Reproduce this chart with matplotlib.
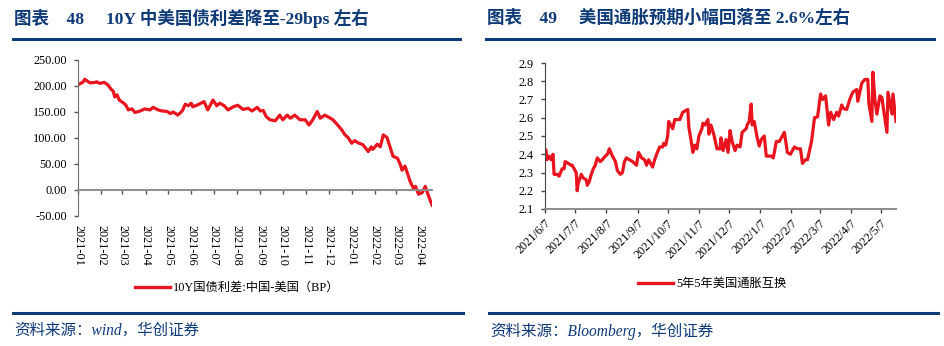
import pandas as pd
import matplotlib
matplotlib.use('Agg')
import matplotlib.pyplot as plt
from matplotlib.lines import Line2D

plt.rcParams['font.family'] = ['Liberation Serif', 'Noto Sans CJK SC']
plt.rcParams['axes.unicode_minus'] = False

# --- 图表48: 10Y国债利差 中国-美国 (BP)
spread_dates = [
    '2021-01-01', '2021-01-08', '2021-01-10', '2021-01-17', '2021-01-24', '2021-01-26',
    '2021-01-30', '2021-02-05', '2021-02-10', '2021-02-14', '2021-02-17', '2021-02-19',
    '2021-02-22', '2021-02-25', '2021-03-02', '2021-03-06', '2021-03-09', '2021-03-14',
    '2021-03-18', '2021-03-25', '2021-03-31', '2021-04-07', '2021-04-11', '2021-04-18',
    '2021-04-23', '2021-04-30', '2021-05-04', '2021-05-08', '2021-05-14', '2021-05-20',
    '2021-05-24', '2021-05-28', '2021-06-01', '2021-06-03', '2021-06-10', '2021-06-18',
    '2021-06-23', '2021-06-30', '2021-07-05', '2021-07-09', '2021-07-15', '2021-07-20',
    '2021-07-27', '2021-08-02', '2021-08-09', '2021-08-16', '2021-08-21', '2021-08-28',
    '2021-09-01', '2021-09-05', '2021-09-09', '2021-09-14', '2021-09-21', '2021-09-27',
    '2021-10-01', '2021-10-07', '2021-10-11', '2021-10-17', '2021-10-24', '2021-10-31',
    '2021-11-05', '2021-11-10', '2021-11-16', '2021-11-20', '2021-11-26', '2021-11-30',
    '2021-12-07', '2021-12-12', '2021-12-19', '2021-12-23', '2021-12-27', '2022-01-01',
    '2022-01-05', '2022-01-09', '2022-01-16', '2022-01-23', '2022-01-27', '2022-01-29',
    '2022-02-04', '2022-02-08', '2022-02-12', '2022-02-17', '2022-02-21', '2022-02-25',
    '2022-03-03', '2022-03-07', '2022-03-09', '2022-03-13', '2022-03-20', '2022-03-24',
    '2022-03-27', '2022-03-31', '2022-04-05', '2022-04-09', '2022-04-13', '2022-04-18',
]
spread_values = [
    202, 208, 213, 206, 207, 208,
    205, 207, 202, 194, 190, 179,
    183, 173, 168, 163, 154, 156,
    149, 152, 156, 154, 159, 154,
    152, 151, 147, 150, 144, 152,
    165, 162, 167, 160, 164, 170,
    154, 173, 162, 167, 162, 154,
    160, 163, 155, 157, 152, 159,
    152, 153, 141, 135, 133, 144,
    135, 144, 138, 144, 135, 135,
    125, 135, 151, 138, 144, 141,
    135, 127, 115, 106, 101, 90,
    95, 91, 87, 74, 83, 78,
    88, 83, 106, 101, 83, 65,
    61, 48, 38, 46, 16, 4,
    7, -8, -5, 7, -10, -29,
]
spread_ticks = ['2021-01', '2021-02', '2021-03', '2021-04', '2021-05', '2021-06', '2021-07',
                '2021-08', '2021-09', '2021-10', '2021-11', '2021-12', '2022-01', '2022-02',
                '2022-03', '2022-04']
spread_yticks = [-50, 0, 50, 100, 150, 200, 250]

# --- 图表49: 5年5年美国通胀互换
swap_dates = [
    '2021-06-07', '2021-06-08', '2021-06-09', '2021-06-11', '2021-06-13', '2021-06-15',
    '2021-06-16', '2021-06-19', '2021-06-21', '2021-06-24', '2021-06-26', '2021-06-27',
    '2021-06-30', '2021-07-03', '2021-07-04', '2021-07-06', '2021-07-08', '2021-07-09',
    '2021-07-10', '2021-07-13', '2021-07-15', '2021-07-18', '2021-07-19', '2021-07-21',
    '2021-07-23', '2021-07-25', '2021-07-27', '2021-07-29', '2021-08-01', '2021-08-03',
    '2021-08-06', '2021-08-08', '2021-08-10', '2021-08-13', '2021-08-16', '2021-08-18',
    '2021-08-21', '2021-08-23', '2021-08-25', '2021-08-27', '2021-08-30', '2021-09-02',
    '2021-09-06', '2021-09-08', '2021-09-11', '2021-09-14', '2021-09-16', '2021-09-18',
    '2021-09-21', '2021-09-22', '2021-09-24', '2021-09-26', '2021-09-29', '2021-10-02',
    '2021-10-03', '2021-10-05', '2021-10-07', '2021-10-08', '2021-10-11', '2021-10-12',
    '2021-10-14', '2021-10-17', '2021-10-19', '2021-10-22', '2021-10-25', '2021-10-27',
    '2021-10-28', '2021-10-31', '2021-11-01', '2021-11-03', '2021-11-05', '2021-11-07',
    '2021-11-10', '2021-11-11', '2021-11-13', '2021-11-16', '2021-11-17', '2021-11-19',
    '2021-11-22', '2021-11-25', '2021-11-28', '2021-11-29', '2021-12-01', '2021-12-04',
    '2021-12-06', '2021-12-08', '2021-12-10', '2021-12-13', '2021-12-15', '2021-12-18',
    '2021-12-20', '2021-12-24', '2021-12-25', '2021-12-27', '2021-12-29', '2021-12-30',
    '2022-01-01', '2022-01-04', '2022-01-06', '2022-01-08', '2022-01-11', '2022-01-13',
    '2022-01-18', '2022-01-20', '2022-01-23', '2022-01-26', '2022-01-28', '2022-01-31',
    '2022-02-03', '2022-02-06', '2022-02-10', '2022-02-13', '2022-02-16', '2022-02-18',
    '2022-02-21', '2022-02-23', '2022-02-27', '2022-03-02', '2022-03-05', '2022-03-08',
    '2022-03-10', '2022-03-13', '2022-03-16', '2022-03-18', '2022-03-21', '2022-03-24',
    '2022-03-26', '2022-03-29', '2022-03-31', '2022-04-03', '2022-04-06', '2022-04-09',
    '2022-04-13', '2022-04-14', '2022-04-18', '2022-04-21', '2022-04-24', '2022-04-25',
    '2022-04-28', '2022-04-29', '2022-05-01', '2022-05-03', '2022-05-06', '2022-05-08',
    '2022-05-10', '2022-05-13', '2022-05-14', '2022-05-18', '2022-05-19', '2022-05-22',
]
swap_values = [
    2.43, 2.42, 2.37, 2.39, 2.37, 2.40,
    2.29, 2.29, 2.28, 2.32, 2.32, 2.36,
    2.35, 2.34, 2.34, 2.32, 2.30, 2.20,
    2.24, 2.29, 2.27, 2.26, 2.23, 2.25,
    2.29, 2.32, 2.34, 2.38, 2.36, 2.37,
    2.39, 2.40, 2.43, 2.39, 2.36, 2.31,
    2.29, 2.30, 2.36, 2.38, 2.37, 2.36,
    2.34, 2.41, 2.38, 2.37, 2.34, 2.37,
    2.34, 2.33, 2.37, 2.40, 2.44, 2.44,
    2.46, 2.45, 2.50, 2.58, 2.55, 2.54,
    2.59, 2.59, 2.59, 2.63, 2.64, 2.645,
    2.55, 2.45, 2.41, 2.45, 2.43, 2.50,
    2.54, 2.57, 2.56, 2.59, 2.51, 2.56,
    2.505, 2.43, 2.43, 2.49, 2.42, 2.48,
    2.41, 2.53, 2.47, 2.42, 2.45, 2.44,
    2.52, 2.54, 2.56, 2.58, 2.675, 2.56,
    2.58, 2.49, 2.445, 2.48, 2.50, 2.39,
    2.39, 2.38, 2.47, 2.47, 2.49, 2.52,
    2.41, 2.40, 2.44, 2.43, 2.43, 2.35,
    2.37, 2.37, 2.47, 2.60, 2.605, 2.73,
    2.70, 2.72, 2.56, 2.63, 2.59, 2.63,
    2.61, 2.67, 2.65, 2.645, 2.70, 2.74,
    2.755, 2.69, 2.79, 2.81, 2.81, 2.68,
    2.58, 2.85, 2.70, 2.62, 2.72, 2.71,
    2.63, 2.52, 2.74, 2.62, 2.73, 2.58,
]
swap_ticks = ['2021/6/7', '2021/7/7', '2021/8/7', '2021/9/7', '2021/10/7', '2021/11/7',
              '2021/12/7', '2022/1/7', '2022/2/7', '2022/3/7', '2022/4/7', '2022/5/7']
swap_yticks = [2.1, 2.2, 2.3, 2.4, 2.5, 2.6, 2.7, 2.8, 2.9]

title_left = '图表\u300048\u3000 10Y 中美国债利差降至-29bps 左右'
title_right = '图表\u300049\u3000 美国通胀预期小幅回落至 2.6%左右'
legend_left = '10Y国债利差:中国-美国（BP）'
legend_right = '5年5年美国通胀互换'
source_left = '资料来源：wind，华创证券'
source_right = '资料来源：Bloomberg，华创证券'

RED = '#E8141E'
NAVY = '#0E3A78'
AXIS_GRAY = '#8C8C8C'
TICK_FS = 8.8

fig = plt.figure(figsize=(9.44, 3.46), dpi=100)
W, H = 944, 346


def px_axes(x0, y0, x1, y1):
    # pixel box (top-left origin) -> figure axes
    return fig.add_axes([x0 / W, 1 - y1 / H, (x1 - x0) / W, (y1 - y0) / H])


# ---------- left chart ----------
ax1 = px_axes(78, 60, 432, 216)
# spine position first, it resets the tick labels
ax1.spines['bottom'].set_position(('data', 0))
d1 = pd.to_datetime(spread_dates)
ax1.plot(d1, spread_values, color=RED, lw=2.3, solid_joinstyle='round')
ax1.set_xlim(d1[0], d1[-1])
ax1.set_ylim(-50, 250)
ax1.set_yticks(spread_yticks)
ax1.set_yticklabels(['%.2f' % v for v in spread_yticks], fontsize=TICK_FS)
ax1.set_xticks(pd.to_datetime(spread_ticks))
ax1.set_xticklabels(spread_ticks, rotation=-90, fontsize=TICK_FS, va='top', ha='center')
for s in ['top', 'right']:
    ax1.spines[s].set_visible(False)
ax1.spines['bottom'].set_color(AXIS_GRAY)
ax1.spines['bottom'].set_linewidth(1.4)
ax1.spines['left'].set_color('#6E6E6E')
ax1.tick_params(axis='x', direction='out', length=3, width=1, color='#555555', pad=22)
ax1.tick_params(axis='y', direction='out', length=3, width=1, color='#555555', pad=5)

# ---------- right chart ----------
ax2 = px_axes(545, 63, 896, 209)
d2 = pd.to_datetime(swap_dates)
ax2.plot(d2, swap_values, color=RED, lw=2.3, solid_joinstyle='round')
ax2.set_xlim(d2[0], d2[-1])
ax2.set_ylim(2.1, 2.9)
ax2.set_yticks(swap_yticks)
ax2.set_yticklabels(['%.1f' % v for v in swap_yticks], fontsize=TICK_FS)
ax2.set_xticks(pd.to_datetime(swap_ticks, format='%Y/%m/%d'))
ax2.set_xticklabels(swap_ticks, rotation=45, ha='right', va='top',
                    rotation_mode='anchor', fontsize=TICK_FS)
for s in ['top', 'right']:
    ax2.spines[s].set_visible(False)
ax2.spines['bottom'].set_color(AXIS_GRAY)
ax2.spines['bottom'].set_linewidth(1.4)
ax2.spines['left'].set_color('#444444')
ax2.tick_params(axis='x', direction='out', length=3, width=1, color='#444444', pad=3)
ax2.tick_params(axis='y', direction='out', length=3, width=1, color='#444444', pad=5)

# ---------- legends ----------
for cx, cy, lab in [(237, 288, legend_left), (712, 284, legend_right)]:
    h = Line2D([], [], color=RED, lw=2.4)
    fig.legend([h], [lab], loc='center', bbox_to_anchor=(cx / W, 1 - cy / H),
               frameon=False, fontsize=8.8, handlelength=2.9, handletextpad=0.2)

# ---------- titles, rules, sources ----------
fig.text(14 / W, 1 - 18 / H, title_left, fontsize=12.6, fontweight='bold', color=NAVY,
         va='center', ha='left')
fig.text(487 / W, 1 - 18 / H, title_right, fontsize=12.6, fontweight='bold', color=NAVY,
         va='center', ha='left')
for x0, x1 in [(13, 460), (486, 934)]:
    fig.add_artist(Line2D([x0 / W, x1 / W], [1 - 39 / H] * 2, color=NAVY, lw=2.2))
for x0, x1 in [(13, 463), (489, 938)]:
    fig.add_artist(Line2D([x0 / W, x1 / W], [1 - 313 / H] * 2, color=NAVY, lw=2.2))
fig.text(14 / W, 1 - 331 / H, source_left, fontsize=11.2, style='italic', color=NAVY,
         va='center', ha='left')
fig.text(490 / W, 1 - 331 / H, source_right, fontsize=11.2, style='italic', color=NAVY,
         va='center', ha='left')

fig.savefig('out.png', dpi=100, facecolor='white')
